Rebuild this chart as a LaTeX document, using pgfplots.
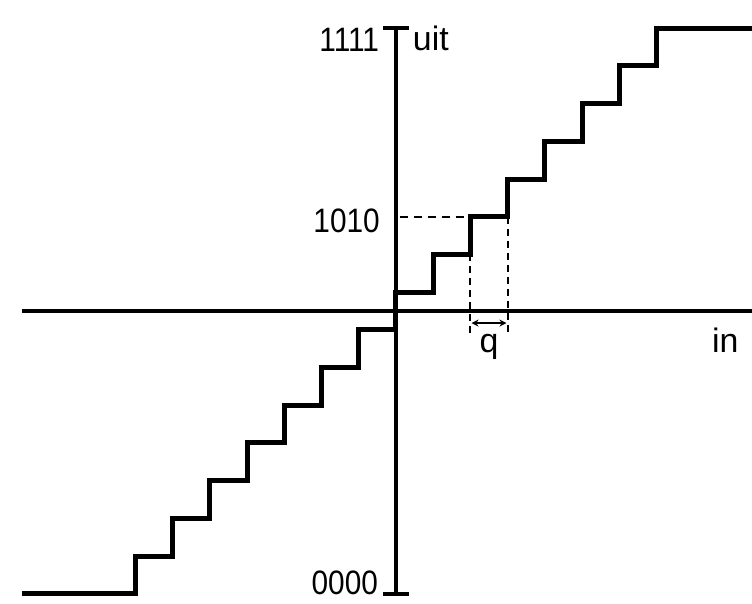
\documentclass[border=0pt]{standalone}
\usepackage{fontspec}
\setmainfont{Liberation Sans}
\newfontfamily\digitfont[FakeStretch=0.88]{Liberation Sans}
\usepackage{pgfplots}
\pgfplotsset{compat=1.18}
\usetikzlibrary{arrows.meta}
\begin{document}
\begin{tikzpicture}
\begin{axis}[
  x=37.2bp, y=37.7bp,
  xmin=-10.05, xmax=9.57,
  ymin=-7.5, ymax=7.5,
  axis lines=middle,
  axis line style={line width=4.4bp, -},
  xtick=\empty,
  ytick={-7.5,7.5},
  yticklabels={},
  major tick length=26bp,
  tick align=center,
  major tick style={line width=4.4bp, black},
  clip=false,
]
% staircase (output level k plotted at k-7.5, input in units of q)
\addplot[const plot, line width=5bp, black, line join=miter] coordinates {
  (-10.05,-7.5) (-7,-6.5) (-6,-5.5) (-5,-4.5) (-4,-3.5) (-3,-2.5) (-2,-1.5) (-1,-0.5)
  (0,0.5) (1,1.5) (2,2.5) (3,3.5) (4,4.5) (5,5.5) (6,6.5) (7,7.5) (9.57,7.5)
};
% dashed helper lines
\addplot[line width=1.9bp, black, dash pattern=on 8bp off 6bp] coordinates {(0.1,2.5) (2,2.5)};
\addplot[line width=1.9bp, black, dash pattern=on 7bp off 5bp] coordinates {(2,1.5) (2,-0.64)};
\addplot[line width=1.9bp, black, dash pattern=on 7bp off 5bp] coordinates {(3,2.5) (3,-0.64)};
% q dimension arrow
\addplot[line width=1.9bp, black, {Stealth[length=7bp,width=7bp]}-{Stealth[length=7bp,width=7bp]}] coordinates {(2.03,-0.32) (2.97,-0.32)};
% labels
\node[anchor=east, inner sep=0pt, font=\fontsize{34}{34}\digitfont] at (axis cs:-0.45,7.2) {1111};
\node[anchor=east, inner sep=0pt, font=\fontsize{34}{34}\digitfont] at (axis cs:-0.43,2.38) {1010};
\node[anchor=east, inner sep=0pt, font=\fontsize{34}{34}\digitfont] at (axis cs:-0.48,-7.22) {0000};
\node[anchor=base west, inner sep=0pt, font=\fontsize{34}{34}\selectfont] at (axis cs:0.45,6.92) {uit};
\node[anchor=base west, inner sep=0pt, font=\fontsize{34}{34}\selectfont] at (axis cs:8.49,-1.11) {in};
\node[anchor=base, inner sep=0pt, font=\fontsize{34}{34}\selectfont] at (axis cs:2.5,-1.09) {q};
\coordinate (bl) at (axis cs:-10.645,-7.772);
\coordinate (tr) at (axis cs:9.570,8.249);
\end{axis}
\pgfresetboundingbox
\path[use as bounding box] (bl) rectangle (tr);
\end{tikzpicture}
\end{document}
